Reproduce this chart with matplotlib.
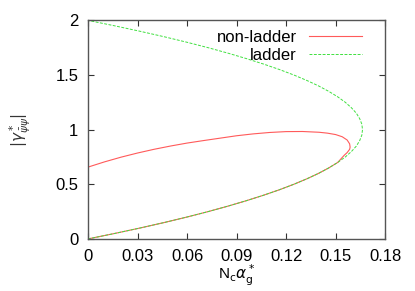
import matplotlib.pyplot as plt

plt.rcParams['font.family'] = ['Liberation Sans', 'DejaVu Sans']
plt.rcParams['mathtext.fontset'] = 'dejavusans'

# ladder curve, read as x at each y (closed at x=0 on both ends)
ladder_y = [0.0, 0.05, 0.1, 0.15, 0.2, 0.25, 0.3, 0.35, 0.4, 0.45, 0.5,
            0.55, 0.6, 0.65, 0.7, 0.75, 0.8, 0.85, 0.9, 0.95, 1.0,
            1.05, 1.1, 1.15, 1.2, 1.25, 1.3, 1.35, 1.4, 1.45, 1.5,
            1.55, 1.6, 1.65, 1.7, 1.75, 1.8, 1.85, 1.9, 1.95, 2.0]
ladder_x = [0.0, 0.0162, 0.0316, 0.0462, 0.0599, 0.0728, 0.0848, 0.0960, 0.1064, 0.1160, 0.1247,
            0.1326, 0.1397, 0.1459, 0.1513, 0.1559, 0.1596, 0.1626, 0.1646, 0.1659, 0.1663,
            0.1659, 0.1646, 0.1626, 0.1596, 0.1559, 0.1513, 0.1459, 0.1397, 0.1326, 0.1247,
            0.1160, 0.1064, 0.0960, 0.0848, 0.0728, 0.0599, 0.0462, 0.0316, 0.0162, 0.0]

# non-ladder curve, upper branch from x=0 round the tip and back down
nonladder_x = [0.0, 0.01, 0.02, 0.03, 0.04, 0.05, 0.06, 0.07, 0.08, 0.09,
               0.10, 0.11, 0.12, 0.13, 0.14, 0.145, 0.15, 0.154, 0.157, 0.1585,
               0.1588, 0.1585, 0.157, 0.1552, 0.1513, 0.1459, 0.1397, 0.1326, 0.1247,
               0.1160, 0.1064, 0.0960, 0.0848, 0.0728, 0.0599, 0.0462, 0.0316, 0.0162, 0.0]
nonladder_y = [0.657, 0.705, 0.748, 0.786, 0.820, 0.850, 0.877, 0.900, 0.922, 0.944,
               0.961, 0.974, 0.982, 0.983, 0.976, 0.968, 0.955, 0.935, 0.905, 0.870,
               0.840, 0.820, 0.790, 0.765, 0.70, 0.65, 0.60, 0.55, 0.50,
               0.45, 0.40, 0.35, 0.30, 0.25, 0.20, 0.15, 0.10, 0.05, 0.0]

xticks = [0, 0.03, 0.06, 0.09, 0.12, 0.15, 0.18]
yticks = [0, 0.5, 1, 1.5, 2]

fig = plt.figure(figsize=(4.15, 2.91), dpi=100)
ax = fig.add_axes([0.212, 0.179, 0.716, 0.751])

ax.plot(nonladder_x, nonladder_y, color='#ff5a5a', lw=0.8, label='non-ladder')
ax.plot(ladder_x, ladder_y, color='#40e040', lw=0.7, ls=(0, (3, 1.5)), label='ladder')

ax.set_xlim(0, 0.18)
ax.set_ylim(0, 2)
ax.set_xticks(xticks)
ax.set_xticklabels(['0', '0.03', '0.06', '0.09', '0.12', '0.15', '0.18'])
ax.set_yticks(yticks)
ax.set_yticklabels(['0', '0.5', '1', '1.5', '2'])
ax.tick_params(direction='in', top=True, right=True, length=4, width=0.8,
               labelsize=12, pad=7, colors='#333333', labelcolor='black')
for s in ax.spines.values():
    s.set_color('#555555')
    s.set_linewidth(1.0)

ax.set_xlabel(r'N$_\mathrm{c}\alpha^*_\mathrm{g}$', fontsize=11)
ax.xaxis.set_label_coords(0.50, -0.112)
ax.set_ylabel(r'$|\gamma^*_{\bar{\psi}\psi}|$', fontsize=11, color='#333333')
ax.yaxis.set_label_coords(-0.185, 0.50)

ax.legend(loc='upper right', frameon=False, markerfirst=False, fontsize=12,
          handlelength=3.2, handletextpad=0.7, labelspacing=0.15,
          borderaxespad=0.0, bbox_to_anchor=(0.945, 0.985))

fig.savefig('out.png', dpi=100)
